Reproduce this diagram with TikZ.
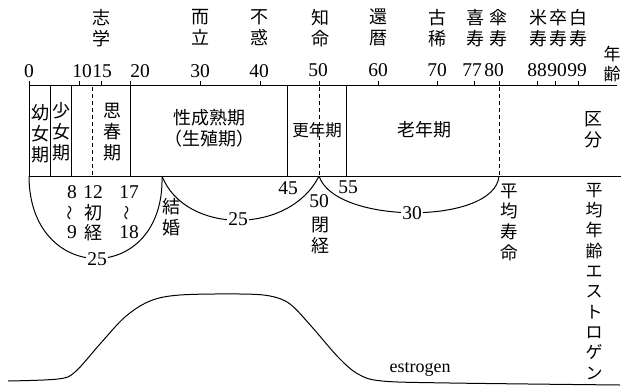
\documentclass[tikz,border=0pt]{standalone}
\usepackage{fontspec}
\setmainfont{Liberation Serif}
\newfontfamily\cjk{Noto Sans CJK JP}
\begin{document}
\begin{tikzpicture}[x=1pt,y=-1pt,
  ln/.style={line width=1pt},
  dsh/.style={line width=1pt, dash pattern=on 4pt off 3pt},
  jp/.style={font=\cjk\fontsize{18}{21}\selectfont, inner sep=0pt, align=center, anchor=north},
  jps/.style={font=\cjk\fontsize{17}{20}\selectfont, inner sep=0pt, align=center, anchor=north},
  num/.style={font=\fontsize{19.5}{21}\selectfont, inner sep=0pt},
  lbl/.style={fill=white, inner sep=1.5pt, font=\fontsize{19.5}{21}\selectfont},
  tld/.style={font=\cjk\fontsize{15}{15}\selectfont, inner sep=0pt, rotate=90}]
\useasboundingbox (0,0) rectangle (621,391);
% top labels
\node[jp] (t15) at (101,9) {志\\学};
\node[jp] (t30) at (200,9) {而\\立};
\node[jp] (t40) at (259,9) {不\\惑};
\node[jp] (t50) at (320,9) {知\\命};
\node[jp] (t60) at (378,9) {還\\暦};
\node[jp] (t70) at (437,9) {古\\稀};
\node[jp] (t77) at (475,9) {喜\\寿};
\node[jp] (t80) at (498,9) {傘\\寿};
\node[jp] (t88) at (538,9) {米\\寿};
\node[jp] (t90) at (558,9) {卒\\寿};
\node[jp] (t99) at (578,9) {白\\寿};
\node[jps] (nenrei) at (612,46) {年\\齢};
% numbers
\node[num] (n0) at (29,71) {0};
\node[num] (n10) at (82,71) {10};
\node[num] (n15) at (102,71) {15};
\node[num] (n20) at (140,71) {20};
\node[num] (n30) at (200,71) {30};
\node[num] (n40) at (259,71) {40};
\node[num] (n50) at (318,70) {50};
\node[num] (n60) at (378,70) {60};
\node[num] (n70) at (437,70) {70};
\node[num] (n77) at (472,70) {77};
\node[num] (n80) at (494,70) {80};
\node[num] (n88) at (537,70) {88};
\node[num] (n90) at (557,70) {90};
\node[num] (n99) at (577,70) {99};
% axis and box
\draw[ln] (29,85) -- (617,85);
\draw[ln] (29,176) -- (621,176);
\foreach \x in {79,101,130,200,260,319,378,437,474,499,537,555,578}
  \draw[ln] (\x,81) -- (\x,85);
\draw[ln] (29,81) -- (29,176);
\foreach \x in {50,71,130,287,346}
  \draw[ln] (\x,85) -- (\x,176);
\foreach \x in {92,319,499}
  \draw[dsh] (\x,87) -- (\x,176);
% box texts
\node[jp] (k1) at (40,104) {幼\\女\\期};
\node[jp] (k2) at (61,102) {少\\女\\期};
\node[jp] (k3) at (112,103) {思\\春\\期};
\node[jp] (k4) at (209,109) {性成熟期\\（生殖期）};
\node[jp, font=\cjk\fontsize{16.5}{20}\selectfont] (k5) at (317,122) {更年期};
\node[jp] (k6) at (424,121) {老年期};
\node[jp] (k7) at (593,111) {区\\分};
% below box
\node[num] (a45) at (288,188) {45};
\node[num] (a55) at (348,187) {55};
\node[num] (a50) at (319,201) {50};
\node[jp] (heikei) at (320,217) {閉\\経};
\node[num] (a8) at (72,192) {8};
\node[num] (a12) at (93,192) {12};
\node[num] (a17) at (129,192) {17};
\node[tld] (w1) at (72,213) {～};
\node[tld] (w2) at (129,213) {～};
\node[jp] (sho) at (93,204) {初};
\node[num] (a9) at (72,232) {9};
\node[jp] (kei) at (93,224) {経};
\node[num] (a18) at (129,232) {18};
\node[jp] (kekkon) at (171,198) {結\\婚};
\node[jp, font=\cjk\fontsize{17.5}{20.7}\selectfont] (heikin) at (509,183.5) {平\\均\\寿\\命};
\node[jp, font=\cjk\fontsize{17}{20.3}\selectfont] (right) at (594,183) {平\\均\\年\\齢\\エ\\ス\\ト\\ロ\\ゲ\\ン};
% arcs
\coordinate (b0) at (29,176);
\coordinate (bm) at (162,176);
\coordinate (b50) at (319,176);
\coordinate (b80) at (499,176);
\draw[ln] (b0) .. controls (29,286) and (165,286) .. (bm);
\draw[ln] (bm) .. controls (185,235) and (290,235) .. (b50);
\draw[ln] (b50) .. controls (335,225) and (495,225) .. (b80);
\node[lbl] (l1) at (97,259) {25};
\node[lbl] (l2) at (238,219) {25};
\node[lbl] (l3) at (412,213) {30};
% estrogen curve
\draw[ln] plot[smooth, tension=0.55] coordinates {(8,381) (58,379) (75,372) (100,344) (125,317) (150,301) (180,295) (240,294) (270,296) (290,304) (312,327) (338,357) (358,374) (382,381) (450,383) (620,385)};
\node[font=\fontsize{18}{20}\selectfont, inner sep=0pt] (estr) at (420,369) {estrogen};
\end{tikzpicture}
\end{document}
